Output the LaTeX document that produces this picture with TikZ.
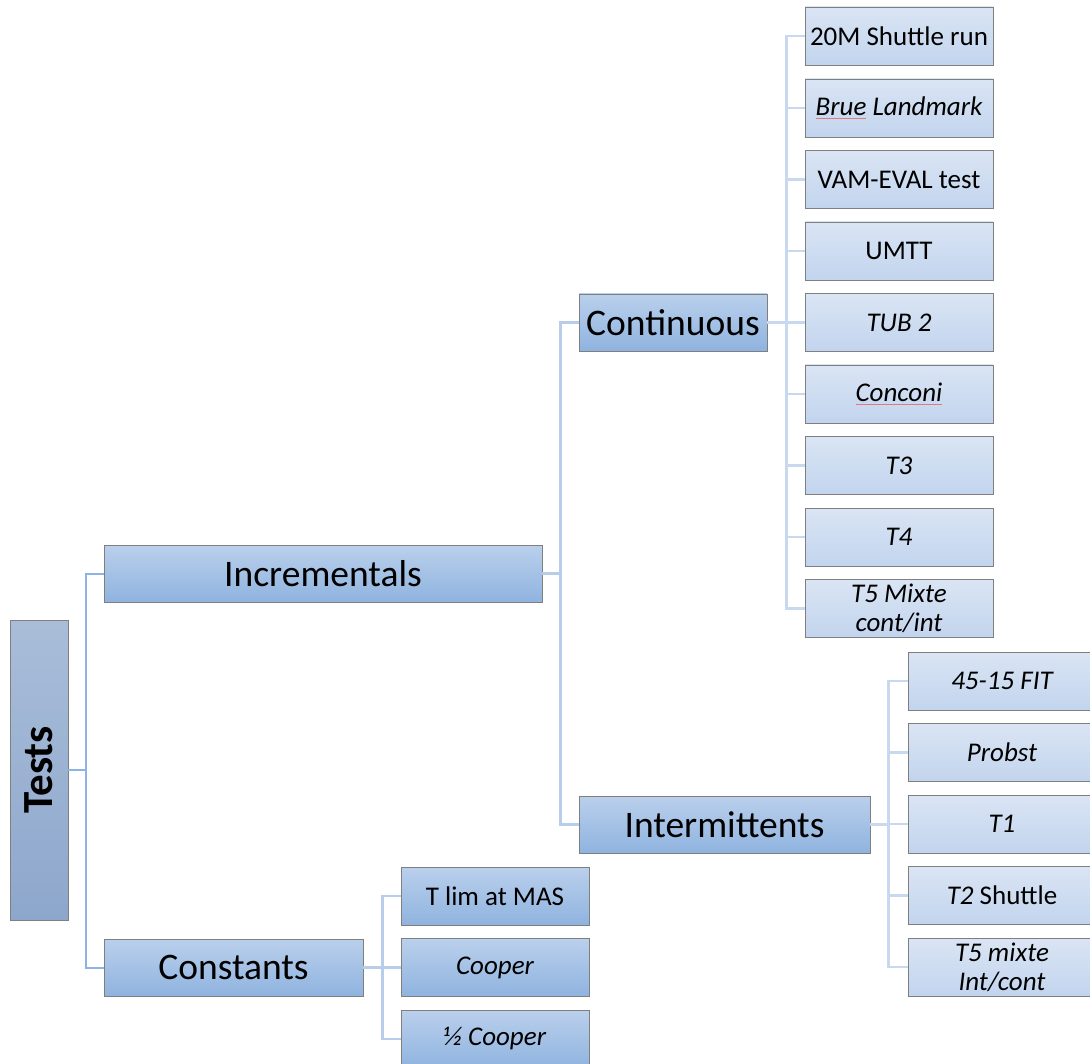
\documentclass[tikz,border=0pt]{standalone}
\usepackage{fontspec}
\setmainfont{Carlito}
\usepackage{tikz}
\definecolor{rootTop}{HTML}{A9BDD9}
\definecolor{rootBot}{HTML}{8DA7CC}
\definecolor{midTop}{HTML}{BAD0EC}
\definecolor{midBot}{HTML}{8FB3DF}
\definecolor{leafTop}{HTML}{DAE5F4}
\definecolor{leafBot}{HTML}{C2D4EE}
\definecolor{rimgray}{HTML}{7F7F7F}
\definecolor{linkA}{HTML}{8DB3E2}
\definecolor{linkB}{HTML}{B7CDEA}
\definecolor{linkC}{HTML}{C8D8EE}
\definecolor{spellred}{HTML}{E07A80}
\newlength{\spellw}
\newcommand{\spell}[1]{\settowidth{\spellw}{#1}\rlap{\textcolor{spellred}{\rule[-3.5pt]{\spellw}{0.9pt}}}#1}

\begin{document}
\begin{tikzpicture}[x=1pt,y=-1pt]
  \tikzset{rootbox/.style={draw=rimgray, line width=0.8pt, top color=rootTop, bottom color=rootBot,
      minimum width=58pt, minimum height=300pt, inner sep=0pt, font=\fontsize{43}{50}\selectfont\bfseries}}
  \tikzset{midbox/.style={draw=rimgray, line width=0.8pt, top color=midTop, bottom color=midBot,
      minimum height=57pt, inner sep=0pt, font=\fontsize{37.5}{44}\selectfont}}
  \tikzset{leafbox/.style={draw=rimgray, line width=0.8pt, top color=leafTop, bottom color=leafBot,
      minimum width=188pt, minimum height=58pt, inner sep=0pt, align=center,
      font=\fontsize{27}{29}\selectfont}}
  \tikzset{constleaf/.style={leafbox, top color=midTop, bottom color=midBot}}
  \tikzset{linkone/.style={draw=linkA, line width=2pt}}
  \tikzset{linktwo/.style={draw=linkB, line width=2.2pt}}
  \tikzset{linkthree/.style={draw=linkC, line width=2.2pt}}
  \useasboundingbox (0,0) rectangle (1090,1064);

  \node[rootbox] (tests) at (39,770) {\rotatebox{90}{Tests}};
  \node[midbox, minimum width=438pt] (incr) at (323,573.5) {Incrementals};
  \node[midbox, minimum width=259pt] (const) at (233.5,967.5) {Constants};
  \node[midbox, minimum width=188pt] (cont) at (673,322.5) {Continuous};
  \node[midbox, minimum width=291pt] (inter) at (724.5,824.5) {Intermittents};

  % continuous tests
  \node[leafbox] (shuttle) at (899,36) {20M Shuttle run};
  \node[leafbox] (brue) at (899,108) {\itshape\spell{Brue} Landmark};
  \node[leafbox] (vameval) at (899,179.5) {VAM-EVAL test};
  \node[leafbox] (umtt) at (899,251) {UMTT};
  \node[leafbox] (tub) at (899,322.5) {\itshape TUB 2};
  \node[leafbox] (conconi) at (899,394) {\itshape\spell{Conconi}};
  \node[leafbox] (tthree) at (899,465.5) {\itshape T3};
  \node[leafbox] (tfour) at (899,537) {\itshape T4};
  \node[leafbox] (tfivec) at (899,608.5) {\itshape T5 Mixte\\\itshape cont/int};

  % intermittent tests
  \node[leafbox] (fit) at (1002,681) {\itshape 45-15 FIT};
  \node[leafbox] (probst) at (1002,752.5) {\itshape Probst};
  \node[leafbox] (tone) at (1002,824) {\itshape T1};
  \node[leafbox] (ttwo) at (1002,895.5) {\textit{T2} Shuttle};
  \node[leafbox] (tfivei) at (1002,967) {\itshape T5 mixte\\\itshape Int/cont};

  % constant tests
  \node[constleaf] (tlim) at (495,896) {T lim at MAS};
  \node[constleaf] (cooper) at (495,967.5) {\itshape Cooper};
  \node[constleaf] (halfcooper) at (495,1039) {\itshape ½ Cooper};

  % connectors
  \draw[linkone] (tests.east) -- ++(18,0) |- (incr.west);
  \draw[linkone] (tests.east) -- ++(18,0) |- (const.west);

  \draw[linktwo] (incr.east) -- ++(18,0) |- (cont.west);
  \draw[linktwo] (incr.east) -- ++(18,0) |- (inter.west);

  \draw[linkthree] (cont.east) -- ++(19,0) |- (shuttle.west);
  \draw[linkthree] (cont.east) -- ++(19,0) |- (brue.west);
  \draw[linkthree] (cont.east) -- ++(19,0) |- (vameval.west);
  \draw[linkthree] (cont.east) -- ++(19,0) |- (umtt.west);
  \draw[linkthree] (cont.east) -- ++(19,0) |- (tub.west);
  \draw[linkthree] (cont.east) -- ++(19,0) |- (conconi.west);
  \draw[linkthree] (cont.east) -- ++(19,0) |- (tthree.west);
  \draw[linkthree] (cont.east) -- ++(19,0) |- (tfour.west);
  \draw[linkthree] (cont.east) -- ++(19,0) |- (tfivec.west);

  \draw[linkthree] (inter.east) -- ++(18,0) |- (fit.west);
  \draw[linkthree] (inter.east) -- ++(18,0) |- (probst.west);
  \draw[linkthree] (inter.east) -- ++(18,0) |- (tone.west);
  \draw[linkthree] (inter.east) -- ++(18,0) |- (ttwo.west);
  \draw[linkthree] (inter.east) -- ++(18,0) |- (tfivei.west);

  \draw[linktwo] (const.east) -- ++(19,0) |- (tlim.west);
  \draw[linktwo] (const.east) -- ++(19,0) |- (cooper.west);
  \draw[linktwo] (const.east) -- ++(19,0) |- (halfcooper.west);
\end{tikzpicture}
\end{document}
